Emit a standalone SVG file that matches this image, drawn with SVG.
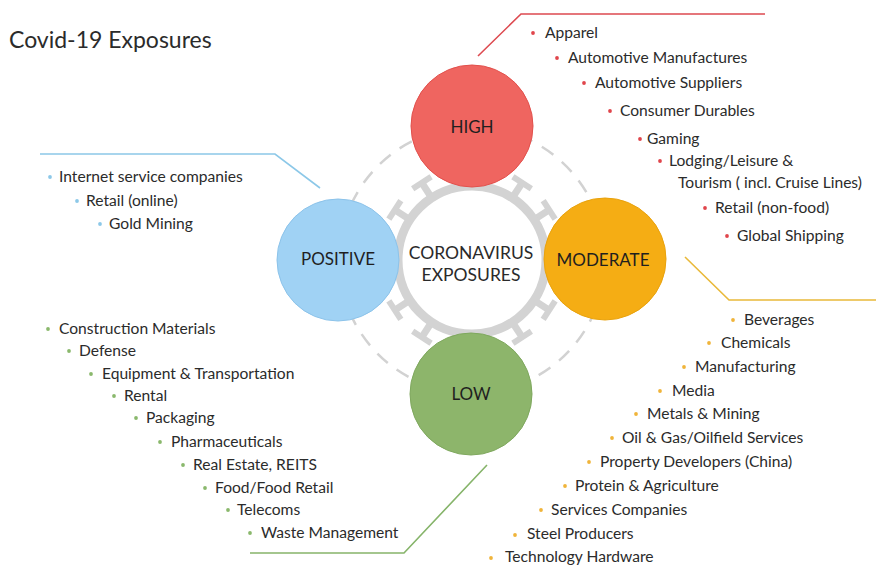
<svg xmlns="http://www.w3.org/2000/svg" width="876" height="566" viewBox="0 0 876 566">
  <defs>
    <style>
      text { font-family: Lato, "Open Sans", "Liberation Sans", sans-serif; fill: #2b2b2b; }
      .title { font-size: 23px; }
      .item { font-size: 15.6px; }
      .label { font-size: 17px; text-anchor: middle; fill: #1f1f1f; }
      .center { font-size: 17.5px; text-anchor: middle; fill: #2a2a2a; }
      .conn { fill: none; stroke-width: 1.6; }
      .dash { fill: none; stroke: #d2d2d2; stroke-width: 2.5; stroke-dasharray: 14 11; }
      .spike { fill: #d3d3d3; }
      .b-red { fill: #e0454b; }
      .b-blue { fill: #8cc8e8; }
      .b-yel { fill: #f0b43a; }
      .b-grn { fill: #8ab86c; }
    </style>
    <!-- one corona spike: stem plus crossbar, pointing up from the ring -->
    <g id="spike">
      <rect class="spike" x="-3.5" y="-92" width="7" height="16"/>
      <rect class="spike" x="-11" y="-95" width="22" height="6"/>
    </g>
  </defs>

  <rect width="876" height="566" fill="#ffffff"/>

  <text class="title" x="9" y="48">Covid-19 Exposures</text>

  <!-- outer dashed orbit -->
  <circle class="dash" cx="472" cy="260" r="133"/>

  <!-- virus body -->
  <g id="virus" transform="translate(472 260)">
    <use href="#spike" transform="rotate(33)"/>
    <use href="#spike" transform="rotate(57)"/>
    <use href="#spike" transform="rotate(123)"/>
    <use href="#spike" transform="rotate(147)"/>
    <use href="#spike" transform="rotate(213)"/>
    <use href="#spike" transform="rotate(237)"/>
    <use href="#spike" transform="rotate(303)"/>
    <use href="#spike" transform="rotate(327)"/>
    <circle r="74" fill="#ffffff" stroke="#d3d3d3" stroke-width="9"/>
  </g>

  <g id="connectors">
    <polyline class="conn" stroke="#dd4a50" points="478,56 521,14 765,14"/>
    <polyline class="conn" stroke="#8cc8e8" points="40,154 275,154 320,188"/>
    <polyline class="conn" stroke="#e9b93a" points="685,257 729,300 876,300"/>
    <polyline class="conn" stroke="#86b46a" points="487,465 404,553 250,553"/>
  </g>

  <g id="center-node">
    <text class="center" x="471" y="259">CORONAVIRUS</text>
    <text class="center" x="471" y="281">EXPOSURES</text>
  </g>

  <g id="node-high">
    <circle cx="472" cy="126" r="61" fill="#ef6560" stroke="#e2504c" stroke-width="1"/>
    <text class="label" x="472" y="133">HIGH</text>
  </g>
  <g id="node-positive">
    <circle cx="338" cy="260" r="61" fill="#a0d2f4" stroke="#8cc3ea" stroke-width="1"/>
    <text class="label" x="338" y="265">POSITIVE</text>
  </g>
  <g id="node-moderate">
    <circle cx="605" cy="259" r="61" fill="#f5ad14" stroke="#e9a20c" stroke-width="1"/>
    <text class="label" x="603" y="266">MODERATE</text>
  </g>
  <g id="node-low">
    <circle cx="471" cy="394" r="61" fill="#8db56b" stroke="#7fa85e" stroke-width="1"/>
    <text class="label" x="471" y="400">LOW</text>
  </g>

  <!-- high exposure list -->
  <g id="list-high">
    <circle class="b-red" cx="533" cy="33" r="1.9"/><text class="item" x="545" y="38">Apparel</text>
    <circle class="b-red" cx="557" cy="58" r="1.9"/><text class="item" x="568" y="63">Automotive Manufactures</text>
    <circle class="b-red" cx="584" cy="83" r="1.9"/><text class="item" x="595" y="88">Automotive Suppliers</text>
    <circle class="b-red" cx="610" cy="111" r="1.9"/><text class="item" x="620" y="116">Consumer Durables</text>
    <circle class="b-red" cx="640" cy="139" r="1.9"/><text class="item" x="647" y="144">Gaming</text>
    <circle class="b-red" cx="660" cy="161" r="1.9"/><text class="item" x="669" y="166">Lodging/Leisure &amp;</text>
    <text class="item" x="678" y="188">Tourism ( incl. Cruise Lines)</text>
    <circle class="b-red" cx="705" cy="208" r="1.9"/><text class="item" x="715" y="213">Retail (non-food)</text>
    <circle class="b-red" cx="727" cy="236" r="1.9"/><text class="item" x="737" y="241">Global Shipping</text>
  </g>

  <!-- positive exposure list -->
  <g id="list-positive">
    <circle class="b-blue" cx="50" cy="177" r="1.9"/><text class="item" x="59" y="182">Internet service companies</text>
    <circle class="b-blue" cx="77" cy="201" r="1.9"/><text class="item" x="86" y="206">Retail (online)</text>
    <circle class="b-blue" cx="100" cy="224" r="1.9"/><text class="item" x="109" y="229">Gold Mining</text>
  </g>

  <!-- moderate exposure list -->
  <g id="list-moderate">
    <circle class="b-yel" cx="733" cy="320" r="1.9"/><text class="item" x="744" y="325">Beverages</text>
    <circle class="b-yel" cx="709" cy="343" r="1.9"/><text class="item" x="721" y="348">Chemicals</text>
    <circle class="b-yel" cx="684" cy="367" r="1.9"/><text class="item" x="695" y="372">Manufacturing</text>
    <circle class="b-yel" cx="660" cy="391" r="1.9"/><text class="item" x="672" y="396">Media</text>
    <circle class="b-yel" cx="636" cy="414" r="1.9"/><text class="item" x="647" y="419">Metals &amp; Mining</text>
    <circle class="b-yel" cx="612" cy="438" r="1.9"/><text class="item" x="622" y="443">Oil &amp; Gas/Oilfield Services</text>
    <circle class="b-yel" cx="589" cy="462" r="1.9"/><text class="item" x="600" y="467">Property Developers (China)</text>
    <circle class="b-yel" cx="565" cy="486" r="1.9"/><text class="item" x="575" y="491">Protein &amp; Agriculture</text>
    <circle class="b-yel" cx="541" cy="510" r="1.9"/><text class="item" x="551" y="515">Services Companies</text>
    <circle class="b-yel" cx="515" cy="535" r="1.9"/><text class="item" x="527" y="539">Steel Producers</text>
    <circle class="b-yel" cx="491" cy="558" r="1.9"/><text class="item" x="505" y="562">Technology Hardware</text>
  </g>

  <!-- low exposure list -->
  <g id="list-low">
    <circle class="b-grn" cx="48" cy="329" r="1.9"/><text class="item" x="59" y="334">Construction Materials</text>
    <circle class="b-grn" cx="69" cy="351" r="1.9"/><text class="item" x="79" y="356">Defense</text>
    <circle class="b-grn" cx="91" cy="374" r="1.9"/><text class="item" x="102" y="379">Equipment &amp; Transportation</text>
    <circle class="b-grn" cx="114" cy="396" r="1.9"/><text class="item" x="124" y="401">Rental</text>
    <circle class="b-grn" cx="136" cy="418" r="1.9"/><text class="item" x="146" y="423">Packaging</text>
    <circle class="b-grn" cx="160" cy="442" r="1.9"/><text class="item" x="171" y="447">Pharmaceuticals</text>
    <circle class="b-grn" cx="183" cy="465" r="1.9"/><text class="item" x="193" y="470">Real Estate, REITS</text>
    <circle class="b-grn" cx="205" cy="488" r="1.9"/><text class="item" x="215" y="493">Food/Food Retail</text>
    <circle class="b-grn" cx="228" cy="510" r="1.9"/><text class="item" x="237" y="515">Telecoms</text>
    <circle class="b-grn" cx="250" cy="533" r="1.9"/><text class="item" x="261" y="538">Waste Management</text>
  </g>
</svg>
